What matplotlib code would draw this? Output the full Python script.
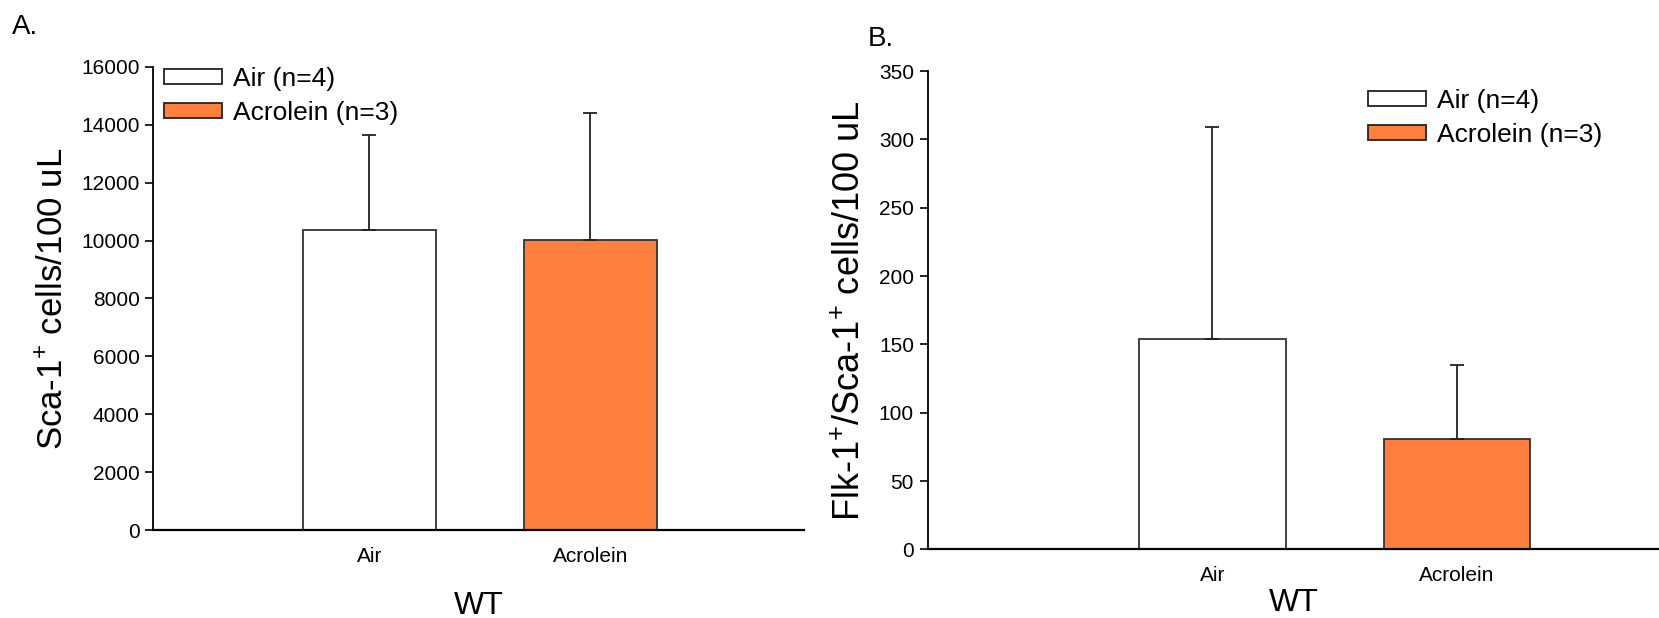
import numpy as np
import matplotlib.pyplot as plt
from matplotlib.patches import Patch

# datos
grupos = ['Air', 'Acrolein']
leyenda = ['Air (n=4)', 'Acrolein (n=3)']
colores = ['white', '#FF7F3F']

sca_media = [10380, 10030]
sca_error = [3270, 4390]

flk_media = [154, 81]
flk_error = [155, 54]

plt.rcParams['font.family'] = ['Liberation Sans']
plt.rcParams['mathtext.fontset'] = 'custom'
plt.rcParams['mathtext.rm'] = 'Liberation Sans'
plt.rcParams['mathtext.default'] = 'regular'

fig = plt.figure(figsize=(16.59, 6.18), dpi=100)


def panel(ax, medias, errores, xlim, ylim, yticks, ylabel, tam_label):
    x = np.arange(len(grupos))
    ax.bar(x, medias, width=0.6, color=colores, edgecolor='#333333', linewidth=1.3,
           yerr=[[0, 0], errores], error_kw=dict(ecolor='#222222', elinewidth=1.3, capsize=5, capthick=1.3),
           zorder=2)
    ax.set_xlim(*xlim)
    ax.set_ylim(*ylim)
    ax.set_yticks(yticks)
    ax.set_xticks(x)
    ax.set_xticklabels(grupos, fontsize=15)
    for t in ax.get_yticklabels():
        t.set_fontsize(15)
    ax.tick_params(axis='x', length=0, pad=12)
    ax.tick_params(axis='y', length=6, width=1.2, direction='out', pad=4)
    ax.spines['top'].set_visible(False)
    ax.spines['right'].set_visible(False)
    ax.spines['left'].set_linewidth(1.3)
    ax.spines['bottom'].set_linewidth(1.6)
    ax.set_ylabel(ylabel, fontsize=tam_label, labelpad=8)
    ax.set_xlabel('WT', fontsize=23)


def poner_leyenda(ax, ancla):
    manijas = [Patch(facecolor=c, edgecolor='#222222', linewidth=1.3) for c in colores]
    ax.legend(manijas, leyenda, loc='upper left', bbox_to_anchor=ancla, frameon=False,
              prop={'size': 19}, handlelength=2.2, handleheight=0.5,
              handletextpad=0.4, labelspacing=0.38, borderaxespad=0.0)


# Panel A
axA = fig.add_axes([0.0925, 0.142, 0.392, 0.750])
panel(axA, sca_media, sca_error, (-0.976, 1.965), (0, 16000), np.arange(0, 16001, 2000),
      'Sca-1$^{+}$ cells/100 uL', 25)
axA.xaxis.labelpad = 18
poner_leyenda(axA, (0.0, 1.022))
fig.text(0.007, 0.945, 'A.', fontsize=20)

# Panel B
axB = fig.add_axes([0.5593, 0.111, 0.4407, 0.774])
panel(axB, flk_media, flk_error, (-1.164, 1.827), (0, 350), np.arange(0, 351, 50),
      'Flk-1$^{+}$/Sca-1$^{+}$ cells/100 uL', 26)
axB.xaxis.labelpad = 2
poner_leyenda(axB, (0.588, 0.985))
fig.text(0.523, 0.925, 'B.', fontsize=20)

fig.savefig('out.png', dpi=100)
